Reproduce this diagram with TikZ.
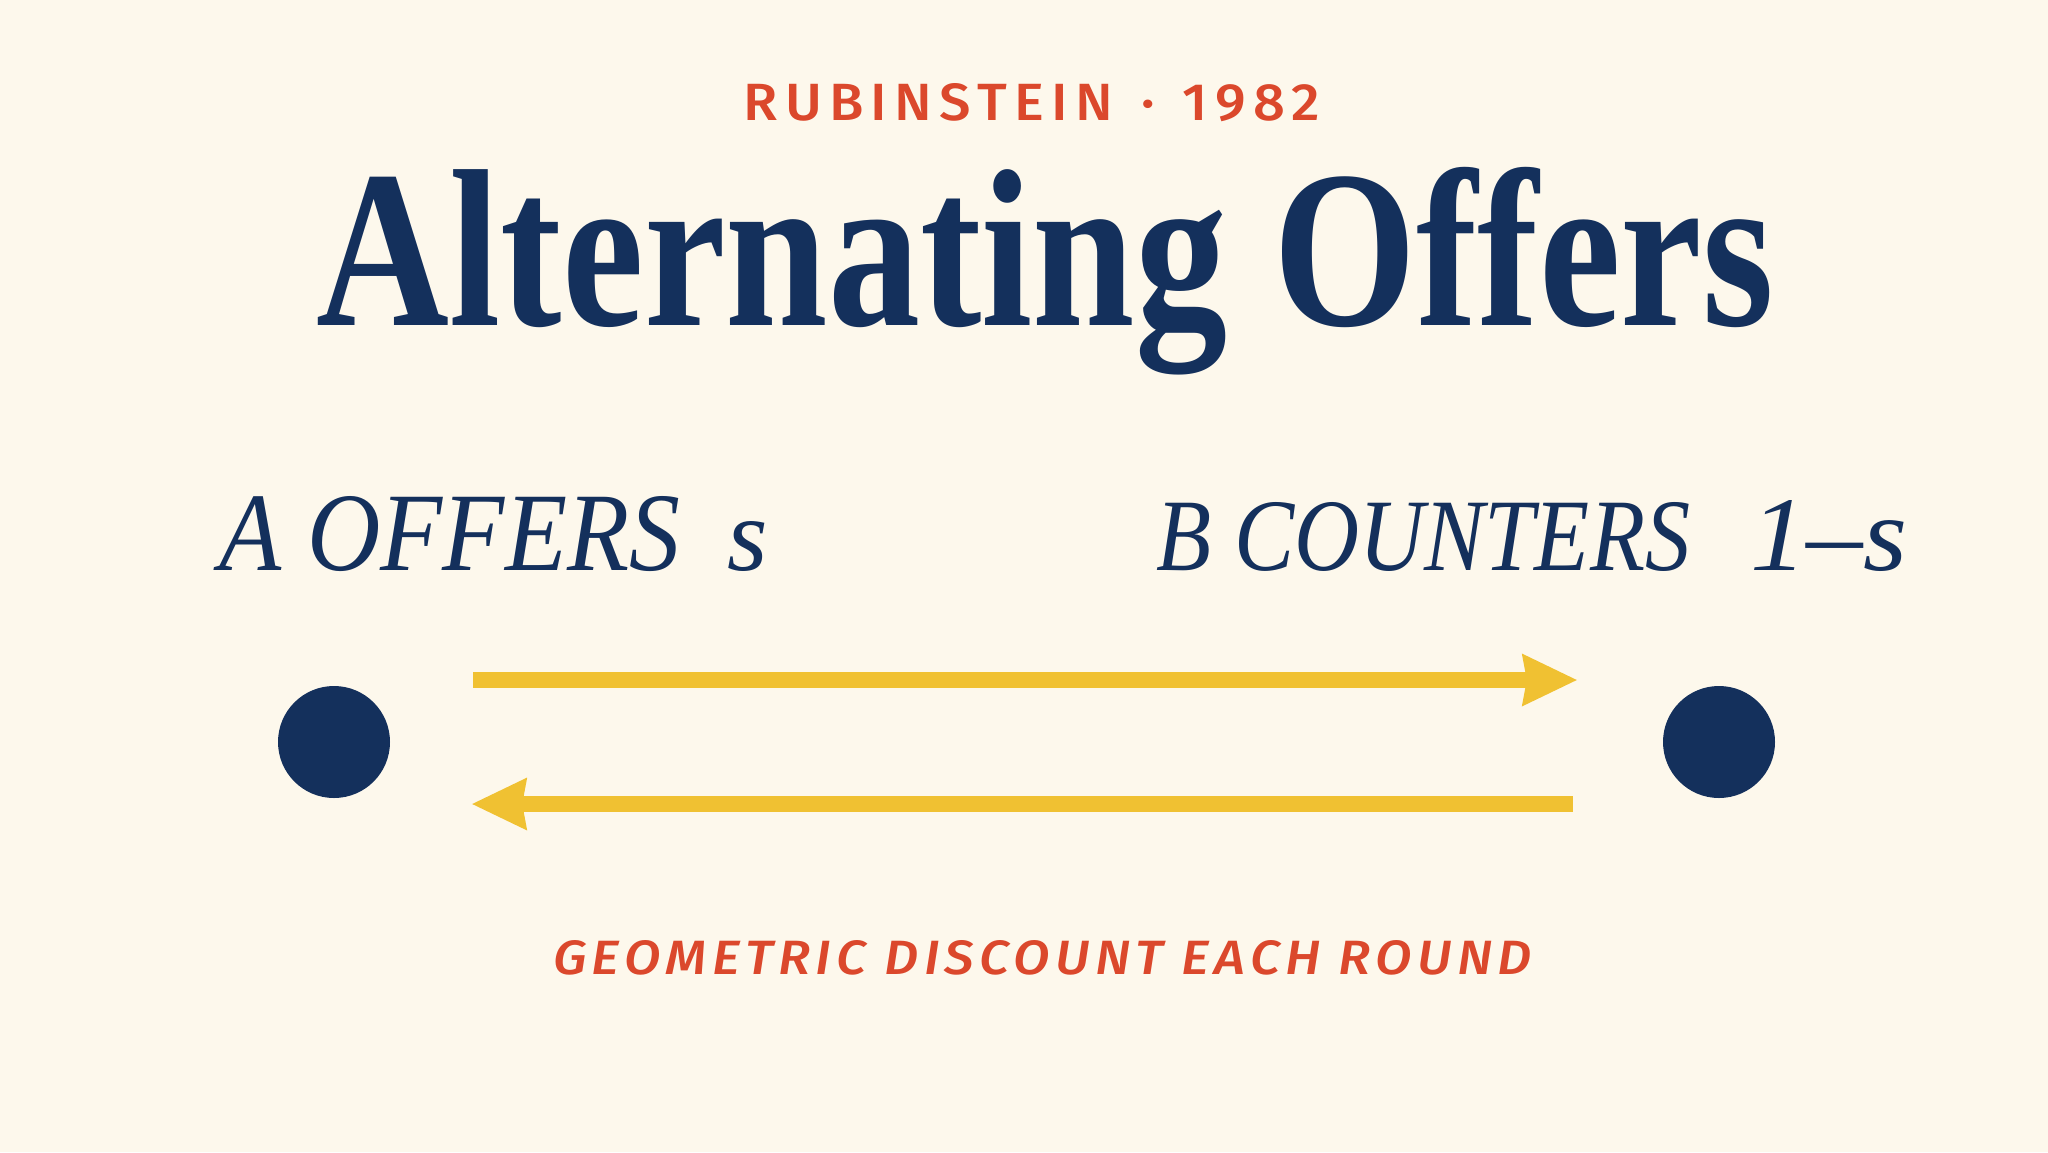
\documentclass[tikz,border=0pt]{standalone}
\usepackage{fontspec}
\usepackage{graphicx}
\usetikzlibrary{arrows.meta}
\definecolor{bgcream}{RGB}{253,248,236}
\definecolor{navy}{RGB}{20,48,92}
\definecolor{gold}{RGB}{240,193,50}
\definecolor{redorange}{RGB}{219,72,44}
\newfontfamily\titlefont{Liberation Serif}
\IfFontExistsTF{Fira Sans Medium}{%
  \newfontfamily\headfont{Fira Sans Medium}[LetterSpace=13]%
  \newfontfamily\footfont{Fira Sans Medium}[LetterSpace=10]%
}{%
  \newfontfamily\headfont{Fira Sans}[LetterSpace=13]%
  \newfontfamily\footfont{Fira Sans}[LetterSpace=10]%
}
\tikzset{
  txt/.style={inner sep=0pt, outer sep=0pt, anchor=base},
  player/.style={circle, fill=navy, minimum size=112pt, inner sep=0pt},
  offer/.style={draw=gold, line width=16pt,
    -{Stealth[length=55pt,width=53pt,inset=5pt,line width=0pt]}}
}
\begin{document}
\begin{tikzpicture}[x=1pt,y=-1pt]
\useasboundingbox (0,0) rectangle (2048,1152);
\fill[bgcream] (0,0) rectangle (2048,1152);

\node[txt, text=redorange] (head) at (1032,120)
  {\resizebox{576pt}{37pt}{\headfont RUBINSTEIN\hspace*{0.5em}·\hspace*{0.5em}1982}};
\node[txt, text=navy] (title) at (1045.5,325)
  {\resizebox{1457pt}{158pt}{\titlefont\bfseries Alternating Offers}};

\node[txt, text=navy] (aoff) at (450,570)
  {\resizebox{460pt}{74pt}{\titlefont\itshape A OFFERS}};
\node[txt, text=navy] (s1) at (748,570)
  {\resizebox{!}{49pt}{\titlefont\itshape s}};
\node[txt, text=navy] (bcount) at (1423.5,570)
  {\resizebox{533pt}{68pt}{\titlefont\itshape B COUNTERS}};
\node[txt, text=navy] (oneminus) at (1828.5,570)
  {\resizebox{157pt}{70pt}{\titlefont\itshape 1–s}};

\node[player] (A) at (334,742) {};
\node[player] (B) at (1719,742) {};

\draw[offer, shorten <=83pt, shorten >=86pt]
  ([yshift=62pt]A.east) -- ([yshift=62pt]B.west);
\draw[offer, shorten <=90pt, shorten >=82pt]
  ([yshift=-62pt]B.west) -- ([yshift=-62pt]A.east);

\node[txt, text=redorange] (foot) at (1042.5,974)
  {\resizebox{979pt}{34pt}{\footfont\itshape GEOMETRIC DISCOUNT EACH ROUND}};
\end{tikzpicture}
\end{document}
